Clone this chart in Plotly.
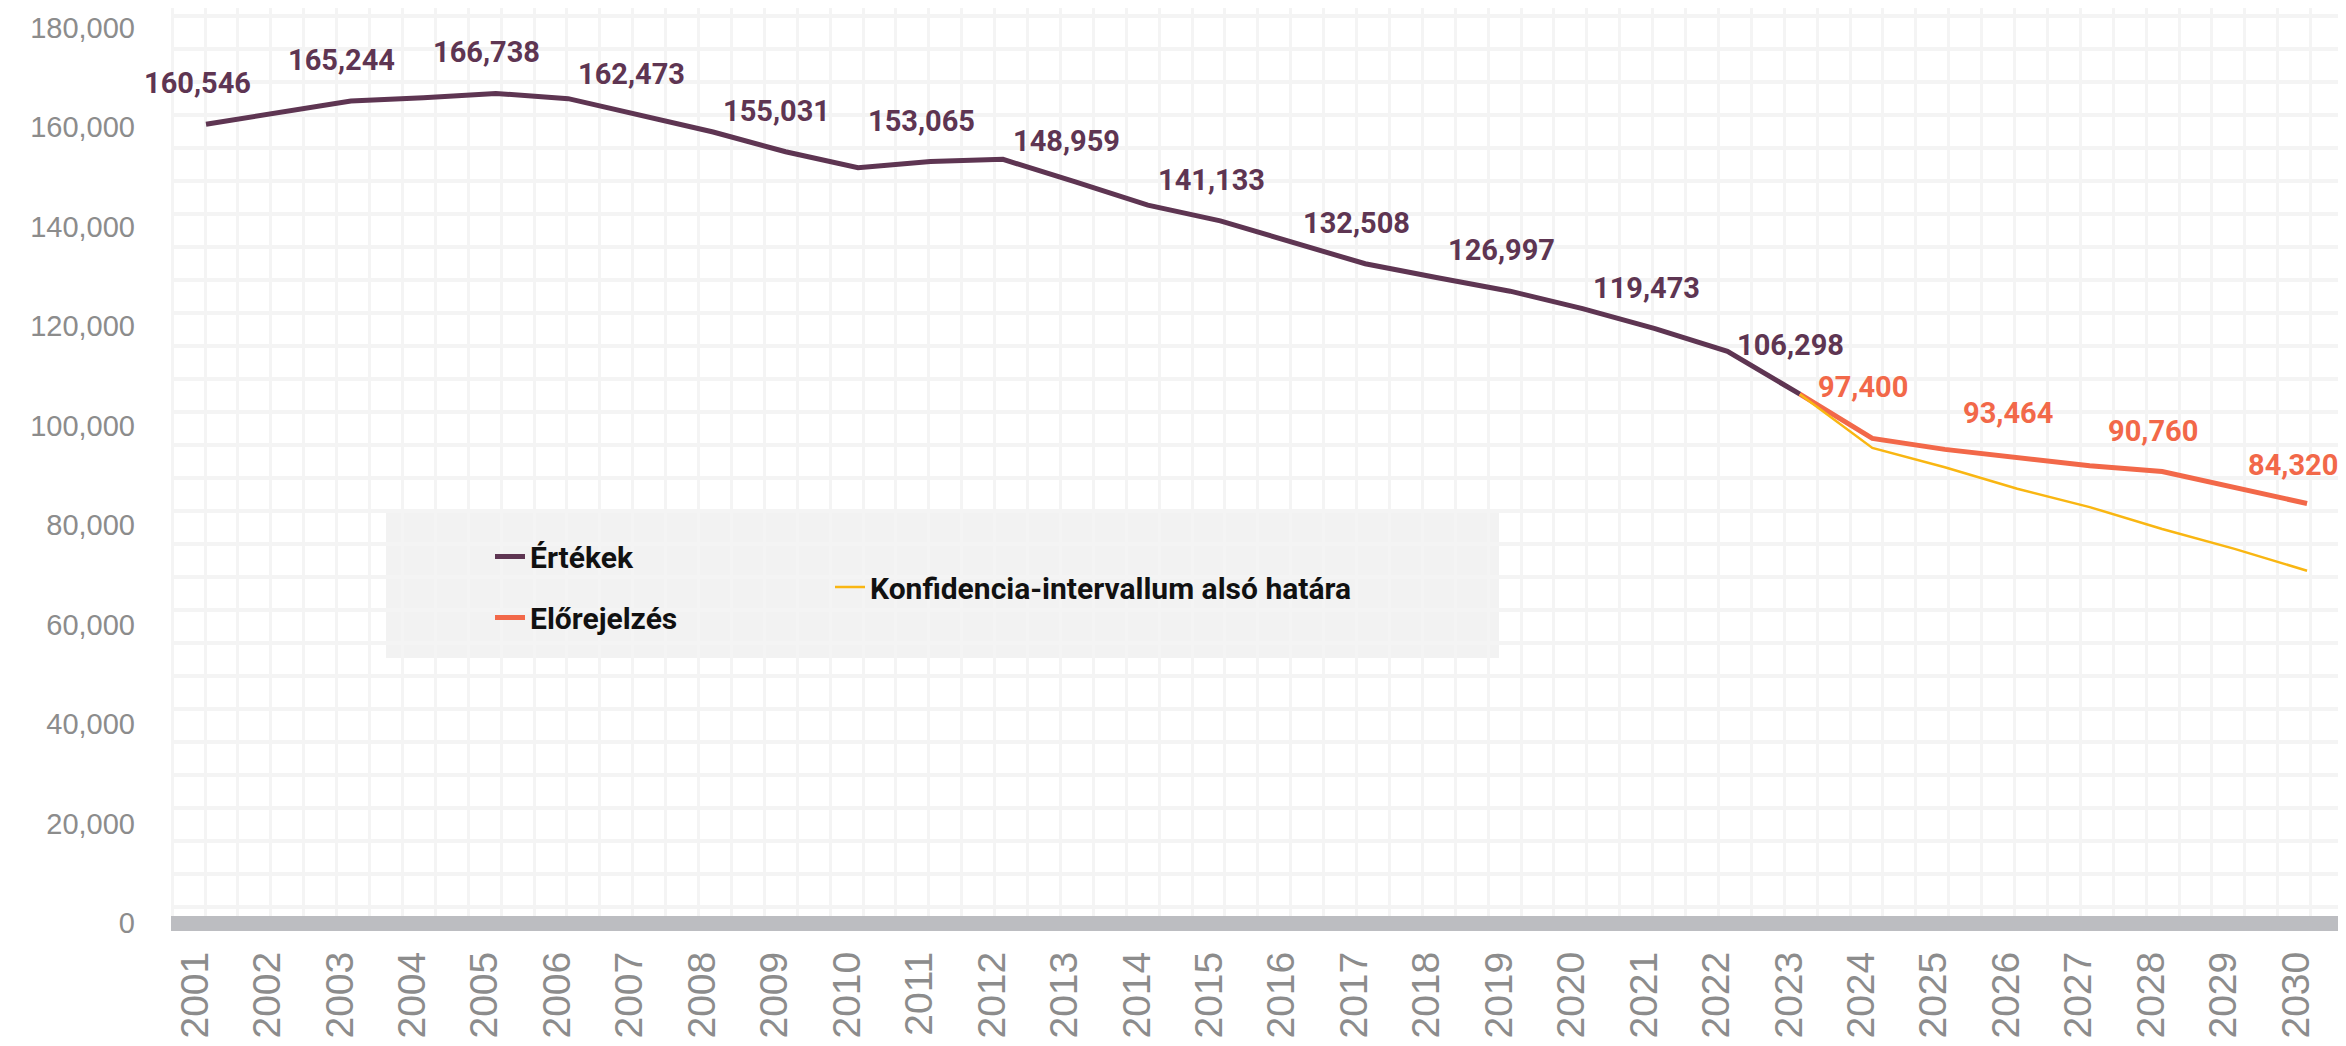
import plotly.graph_objects as go

# ---------------- data ----------------
years_hist = list(range(2001, 2024))
values_hist = [160546, 163000, 165244, 165900, 166738, 165700, 162473, 159000,
               155031, 151800, 153065, 153500, 148959, 144300, 141133, 136700,
               132508, 129700, 126997, 123500, 119473, 114900, 106298]

years_fc = list(range(2023, 2031))
values_fc = [106298, 97400, 95200, 93464, 91900, 90760, 87500, 84320]
values_low = [106298, 95500, 91600, 87300, 83600, 79200, 75200, 70800]

x_ticks = list(range(2001, 2031))
y_ticks = list(range(0, 180001, 20000))

names = ["Értékek", "Előrejelzés", "Konfidencia-intervallum alsó határa"]

# ---------------- style ----------------
PURPLE = "#5e3552"
CORAL = "#f26849"
YELLOW = "#f9b612"
TICK_GRAY = "#8c8c8c"
GRID = "#f4f4f4"

W, H = 2346, 1046
OFF = 8  # the page body margin shifts the figure by this many px

# wanted plot area in page pixels
P_LEFT, P_RIGHT, P_TOP, P_BOTTOM = 171, 2342, OFF, 923
ML = P_LEFT - OFF
MR = W - (P_RIGHT - OFF)
MT = P_TOP - OFF
MB = H - (P_BOTTOM - OFF)
PW = P_RIGHT - P_LEFT
PH = P_BOTTOM - P_TOP

px_per_year = 72.45
x0_px = 206
xa = 2001 - (x0_px - P_LEFT) / px_per_year
xb = xa + PW / px_per_year
lab_shift = 11 / px_per_year

px_per_unit = 99.5 / 20000
y_top = PH / px_per_unit


def paper_x(px):
    return (px - P_LEFT) / PW


def paper_y(py):
    return (P_BOTTOM - py) / PH


# label placement (px above the point)
label_lift_default = 41
label_lift = {2023: 49, 2024: 51, 2026: 45, 2028: 40, 2030: 39}
label_dx_default = -9
label_dx = {2030: -14}

fig = go.Figure()
fig.add_trace(go.Scatter(x=years_hist, y=values_hist, mode="lines", name=names[0],
                         line=dict(color=PURPLE, width=5), legend="legend",
                         legendgroup="a", hoverinfo="skip"))
fig.add_trace(go.Scatter(x=years_fc, y=values_fc, mode="lines", name=names[1],
                         line=dict(color=CORAL, width=5), legend="legend",
                         legendgroup="b", hoverinfo="skip"))
fig.add_trace(go.Scatter(x=years_fc, y=values_low, mode="lines", name=names[2],
                         line=dict(color=YELLOW, width=2.5), legend="legend2",
                         hoverinfo="skip"))
# empty traces registering helper axes (decorative grid, shifted tick labels)
fig.add_trace(go.Scatter(x=[], y=[], xaxis="x2", yaxis="y2", showlegend=False, hoverinfo="skip"))
fig.add_trace(go.Scatter(x=[], y=[], xaxis="x3", yaxis="y", showlegend=False, hoverinfo="skip"))

label_font = dict(family="Roboto, 'DejaVu Sans', sans-serif", size=29, weight="bold")
for yr, v in zip(years_hist[::2], values_hist[::2]):
    fig.add_annotation(x=yr, y=v, text=f"{v:,}", showarrow=False,
                       yshift=label_lift.get(yr, label_lift_default),
                       xshift=label_dx.get(yr, label_dx_default),
                       font=dict(color=PURPLE, **label_font))
for yr, v in zip(years_fc[1::2], values_fc[1::2]):
    fig.add_annotation(x=yr, y=v, text=f"{v:,}", showarrow=False,
                       yshift=label_lift.get(yr, label_lift_default),
                       xshift=label_dx.get(yr, label_dx_default),
                       font=dict(color=CORAL, **label_font))

# legend background box
fig.add_shape(type="rect", xref="paper", yref="paper",
              x0=paper_x(386), x1=paper_x(1499), y0=paper_y(658), y1=paper_y(510),
              fillcolor="#f2f2f2", line=dict(width=0), layer="between")

tick_family = "'Liberation Sans', Arial, sans-serif"
legend_font = dict(family="Roboto, 'DejaVu Sans', sans-serif", size=30, color="#111111", weight="bold")
fig.update_layout(
    width=W, height=H,
    margin=dict(l=ML, r=MR, t=MT, b=MB, pad=0, autoexpand=False),
    paper_bgcolor="white", plot_bgcolor="white",
    hovermode=False,
    xaxis=dict(range=[xa, xb], showticklabels=False, showgrid=False, zeroline=False,
               showline=False, ticks="", automargin=False),
    xaxis3=dict(overlaying="x", anchor="y", side="bottom", range=[xa + lab_shift, xb + lab_shift],
                tickmode="array", tickvals=x_ticks, ticktext=[str(v) for v in x_ticks],
                tickangle=-90, ticks="", showgrid=False, zeroline=False, showline=False,
                ticklabelstandoff=20, automargin=False,
                tickfont=dict(family=tick_family, size=39, color=TICK_GRAY)),
    yaxis=dict(range=[0, y_top], tickmode="array", tickvals=y_ticks, tickformat=",d",
               showgrid=False, zeroline=True, zerolinecolor="#bcbdc1", zerolinewidth=15,
               showline=False, ticks="", ticklabelstandoff=35, automargin=False,
               tickfont=dict(family=tick_family, size=29, color=TICK_GRAY)),
    xaxis2=dict(overlaying="x", anchor="y2", range=[P_LEFT, P_RIGHT], tick0=205, dtick=32.9,
                showgrid=True, gridcolor=GRID, gridwidth=3, showticklabels=False,
                zeroline=False, showline=False, ticks="", automargin=False),
    yaxis2=dict(overlaying="y", anchor="x2", range=[P_BOTTOM, P_TOP], tick0=15.7, dtick=33,
                showgrid=True, gridcolor=GRID, gridwidth=4, showticklabels=False,
                zeroline=False, showline=False, ticks="", automargin=False),
    legend=dict(x=paper_x(490), y=paper_y(587), xanchor="left", yanchor="middle",
                bgcolor="rgba(0,0,0,0)", font=legend_font, tracegroupgap=19, itemwidth=30),
    legend2=dict(x=paper_x(830), y=paper_y(587), xanchor="left", yanchor="middle",
                 bgcolor="rgba(0,0,0,0)", font=legend_font, itemwidth=30),
)

fig.write_html("out.html")
